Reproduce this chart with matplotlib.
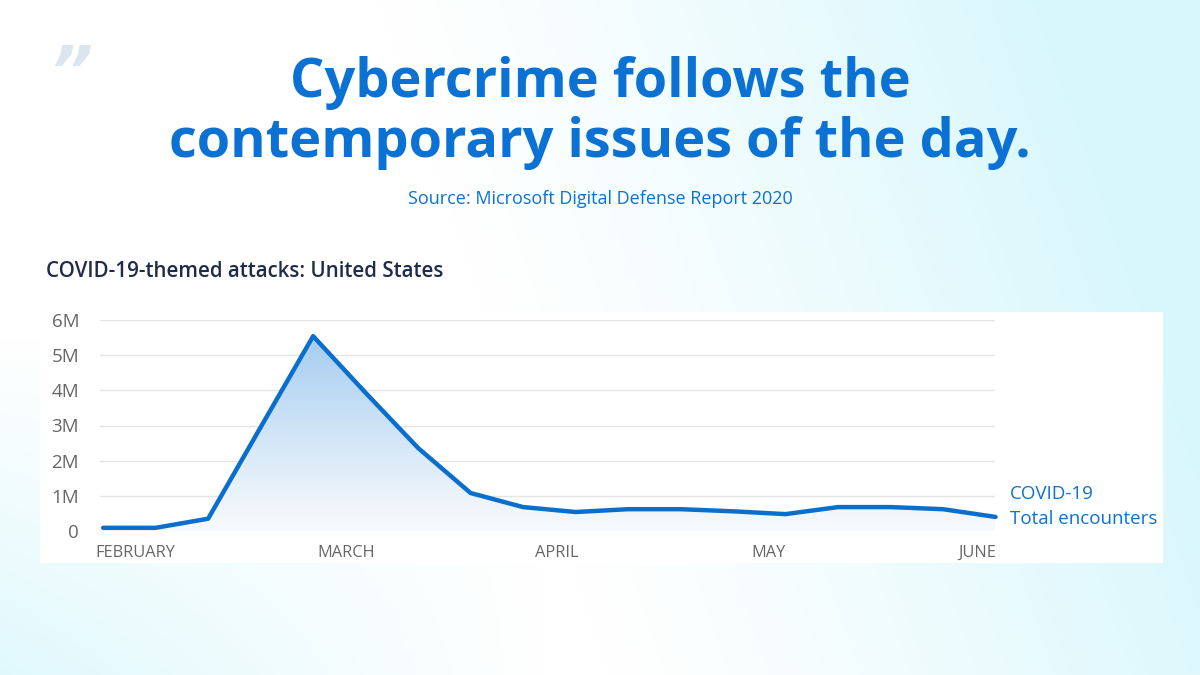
import numpy as np
import matplotlib
matplotlib.use("Agg")
import matplotlib.pyplot as plt
from matplotlib.patches import Rectangle

# weekly COVID-19 themed encounters, Feb -> early June (millions)
weeks = np.arange(18)
encounters = [0.09, 0.09, 0.35, 2.95, 5.54, 3.93, 2.36, 1.08, 0.68, 0.54,
              0.62, 0.62, 0.56, 0.48, 0.68, 0.68, 0.62, 0.40]
month_pos = [0.61, 4.63, 8.65, 12.67]
month_labels = ["FEBRUARY", "MARCH", "APRIL", "MAY"]
y_ticks = [0, 1, 2, 3, 4, 5, 6]
y_labels = ["0", "1M", "2M", "3M", "4M", "5M", "6M"]

blue = "#0b72d4"
line_blue = "#0a6fcc"

fig = plt.figure(figsize=(12, 6.75), dpi=100)

# background gradient: cyan top-right and bottom-left, white across the middle
bg = fig.add_axes([0, 0, 1, 1])
xx, yy = np.meshgrid(np.linspace(0, 1, 300), np.linspace(0, 1, 170))
f1 = np.clip((xx - 0.45) / 0.55 + 0.35 * (yy - 0.3), 0, 1) ** 1.2
f2 = np.clip((0.45 - xx) / 0.45, 0, 1) * np.clip((0.5 - yy) / 0.5, 0, 1) * 0.8
f = np.clip(np.maximum(f1, f2), 0, 1)
white = np.array([1.0, 1.0, 1.0])
cyan = np.array([0.85, 0.97, 0.99])
img = white + (cyan - white) * f[..., None]
bg.imshow(img, extent=[0, 1, 0, 1], origin="lower", aspect="auto")
bg.set_xlim(0, 1)
bg.set_ylim(0, 1)
bg.axis("off")

# white card behind the chart
bg.add_patch(Rectangle((40 / 1200, 1 - 563 / 675), 1123 / 1200, 251 / 675,
                       facecolor="white", edgecolor="none"))

fig.text(71 / 1200, 1 - 75 / 675, "\u201d", fontsize=48, color="#dbe5f1",
         fontweight="bold", style="italic", ha="center", va="center",
         family="DejaVu Sans")
fig.text(600 / 1200, 1 - 83 / 675, "Cybercrime follows the", fontsize=39,
         color=blue, fontweight="bold", ha="center", va="center", family="Open Sans")
fig.text(600 / 1200, 1 - 143 / 675, "contemporary issues of the day.", fontsize=39,
         color=blue, fontweight="bold", ha="center", va="center", family="Open Sans")
fig.text(600 / 1200, 1 - 199 / 675, "Source: Microsoft Digital Defense Report 2020",
         fontsize=13, color=blue, ha="center", va="center", family="Open Sans")
fig.text(46 / 1200, 1 - 271 / 675, "COVID-19-themed attacks: United States",
         fontsize=14.8, color="#1e2b4a", fontweight="semibold", ha="left", va="center",
         family="Open Sans")

ax = fig.add_axes([100 / 1200, 144 / 675, 895 / 1200, 211 / 675])
ax.set_facecolor("none")
ax.set_xlim(-0.06, 16.99)
ax.set_ylim(0, 6)

# gradient fill under the line
poly = ax.fill_between(weeks, encounters, 0, color="none")
grad = np.linspace(0, 1, 256).reshape(-1, 1)
top = np.array([0.64, 0.80, 0.94])
bot = np.array([0.97, 0.98, 0.99])
fill_img = bot + (top - bot) * grad[..., None] ** 1.1
fill_img = fill_img.reshape(256, 1, 3)
im = ax.imshow(fill_img, extent=[0, 17, 0, 5.6], origin="lower", aspect="auto", zorder=1)
im.set_clip_path(poly.get_paths()[0], transform=ax.transData)

ax.plot(weeks, encounters, color=line_blue, linewidth=3.2, solid_joinstyle="round",
        solid_capstyle="round", zorder=3, clip_on=False)

for t in y_ticks:
    ax.axhline(t, color="#e4e4e4", linewidth=1, zorder=0)

for s in ax.spines.values():
    s.set_visible(False)
ax.set_yticks(y_ticks)
ax.set_yticklabels(y_labels)
ax.set_xticks(month_pos)
ax.set_xticklabels(month_labels)
ax.tick_params(length=0, labelcolor="#666666")
ax.tick_params(axis="x", labelsize=11.8, pad=10)
ax.tick_params(axis="y", labelsize=13.5, pad=15)
for lab in ax.get_xticklabels() + ax.get_yticklabels():
    lab.set_family("Open Sans")
ax.text(17.02, -0.62, "JUNE", ha="right", va="center", fontsize=11.8,
        color="#666666", family="Open Sans")

fig.text(1010 / 1200, 1 - 494 / 675, "COVID-19", fontsize=13.5, color=blue,
         ha="left", va="center", family="Open Sans")
fig.text(1010 / 1200, 1 - 519 / 675, "Total encounters", fontsize=13.5, color=blue,
         ha="left", va="center", family="Open Sans")

fig.savefig("out.png", dpi=100)
